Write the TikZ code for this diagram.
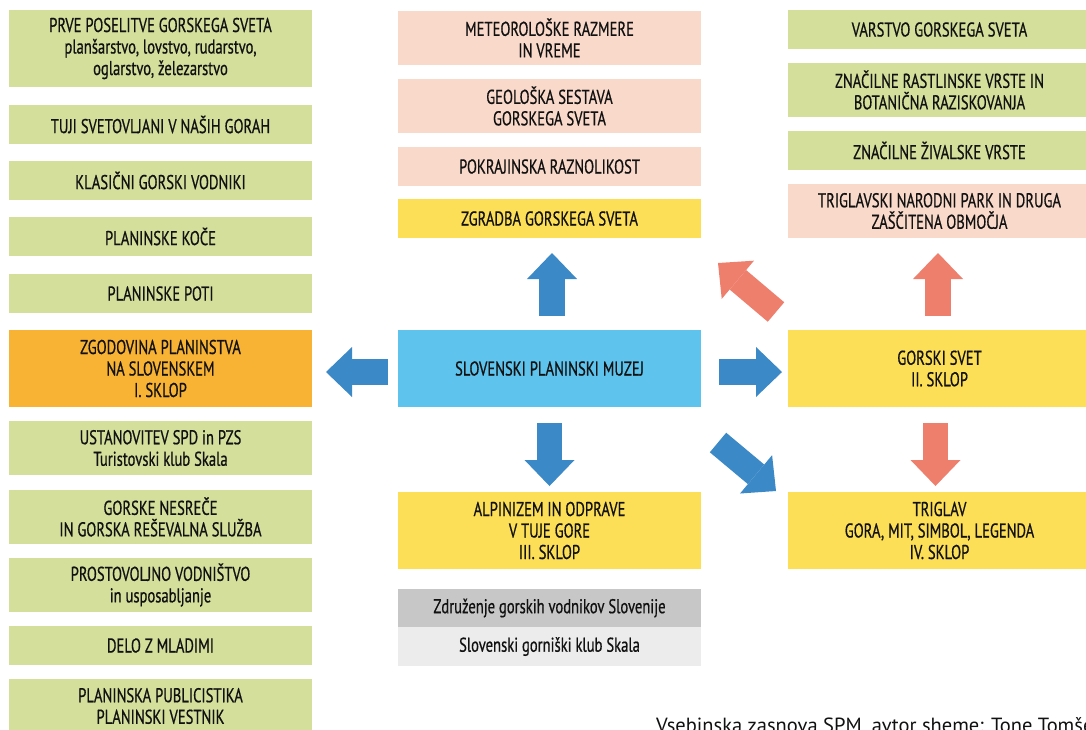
\documentclass[tikz,border=0pt]{standalone}
\usepackage{fontspec}
\setmainfont{PT Sans}[FakeStretch=0.73,FakeBold=0.6]
\newfontfamily\creditfont{PT Sans}
\usetikzlibrary{arrows.meta}
\definecolor{cgreen}{HTML}{D5DF9C}
\definecolor{cpink}{HTML}{F9D9CA}
\definecolor{cyellow}{HTML}{FDDF57}
\definecolor{corange}{HTML}{F8B334}
\definecolor{cblue}{HTML}{5EC4ED}
\definecolor{cgrayA}{HTML}{C6C7C6}
\definecolor{cgrayB}{HTML}{EBECEB}
\definecolor{ablue}{HTML}{3B89C6}
\definecolor{apink}{HTML}{EF7F6D}
\definecolor{ctext}{HTML}{111111}
\tikzset{
  box/.style={inner sep=0pt, outer sep=0pt, minimum width=303pt, align=center,
    text=ctext, font=\fontsize{20}{21.5}\selectfont},
  h39/.style={box, minimum height=39pt},
  h54/.style={box, minimum height=54pt},
  h77/.style={box, minimum height=77pt},
  gbox/.style={fill=cgreen},
  pbox/.style={fill=cpink},
  ybox/.style={fill=cyellow},
  fatarrow/.style={line width=25.5pt,
    -{Triangle[length=26pt,width=50pt,line width=0pt]}},
  barrow/.style={fatarrow, draw=ablue, fill=ablue},
  parrow/.style={fatarrow, draw=apink, fill=apink},
}
\begin{document}
\begin{tikzpicture}[x=1pt,y=-1pt]
\useasboundingbox (0,0) rectangle (1086,729);
% left column
\node[h77,gbox] (l1) at (160.5,48.5) {PRVE POSELITVE GORSKEGA SVETA\\plan\v{s}arstvo, lovstvo, rudarstvo,\\oglarstvo, \v{z}elezarstvo};
\node[h39,gbox] (l2) at (160.5,124.5) {TUJI SVETOVLJANI V NA\v{S}IH GORAH};
\node[h39,gbox] (l3) at (160.5,180.5) {KLASI\v{C}NI GORSKI VODNIKI};
\node[h39,gbox] (l4) at (160.5,236.5) {PLANINSKE KO\v{C}E};
\node[h39,gbox] (l5) at (160.5,293.5) {PLANINSKE POTI};
\node[h77,fill=corange] (lo) at (160.5,368.5) {ZGODOVINA PLANINSTVA\\NA SLOVENSKEM\\I. SKLOP};
\node[h54,gbox] (l6) at (160.5,448) {USTANOVITEV SPD in PZS\\Turistovski klub Skala};
\node[h54,gbox] (l7) at (160.5,517) {GORSKE NESRE\v{C}E\\IN GORSKA RE\v{S}EVALNA SLU\v{Z}BA};
\node[h54,gbox] (l8) at (160.5,585) {PROSTOVOLJNO VODNI\v{S}TVO\\in usposabljanje};
\node[h39,gbox] (l9) at (160.5,645.5) {DELO Z MLADIMI};
\node[h54,gbox] (l10) at (160.5,706) {PLANINSKA PUBLICISTIKA\\PLANINSKI VESTNIK};
% centre column
\node[h54,pbox] (c1) at (549.5,38) {METEOROLO\v{S}KE RAZMERE\\IN VREME};
\node[h54,pbox] (c2) at (549.5,106) {GEOLO\v{S}KA SESTAVA\\GORSKEGA SVETA};
\node[h39,pbox] (c3) at (549.5,166.5) {POKRAJINSKA RAZNOLIKOST};
\node[h39,ybox] (c4) at (549.5,218.5) {ZGRADBA GORSKEGA SVETA};
\node[h77,fill=cblue] (spm) at (549.5,368.5) {SLOVENSKI PLANINSKI MUZEJ};
\node[h77,ybox] (c5) at (549.5,530.5) {ALPINIZEM IN ODPRAVE\\V TUJE GORE\\III. SKLOP};
\node[box,minimum height=38pt,fill=cgrayA] (g1) at (549.5,608) {Zdru\v{z}enje gorskih vodnikov Slovenije};
\node[h39,fill=cgrayB] (g2) at (549.5,646.5) {Slovenski gorni\v{s}ki klub Skala};
% right column
\node[h39,gbox] (r1) at (939.5,29.5) {VARSTVO GORSKEGA SVETA};
\node[h54,gbox] (r2) at (939.5,90) {ZNA\v{C}ILNE RASTLINSKE VRSTE IN\\BOTANI\v{C}NA RAZISKOVANJA};
\node[h39,gbox] (r3) at (939.5,150.5) {ZNA\v{C}ILNE \v{Z}IVALSKE VRSTE};
\node[h54,pbox] (r4) at (939.5,211) {TRIGLAVSKI NARODNI PARK IN DRUGA\\ZA\v{S}\v{C}ITENA OBMO\v{C}JA};
\node[h77,ybox] (r5) at (939.5,368.5) {GORSKI SVET\\II. SKLOP};
\node[h77,ybox] (r6) at (939.5,530.5) {TRIGLAV\\GORA, MIT, SIMBOL, LEGENDA\\IV. SKLOP};
% arrows
\draw[barrow] ([xshift=2.5pt,yshift=14pt]spm.north) -- ([xshift=2.5pt,yshift=-15pt]c4.south);
\draw[barrow] ([xshift=-10pt,yshift=-3.5pt]spm.west) -- ([xshift=14pt,yshift=-3.5pt]lo.east);
\draw[barrow] ([xshift=18pt,yshift=-3.5pt]spm.east) -- ([xshift=-6pt,yshift=-3.5pt]r5.west);
\draw[barrow] ([yshift=-16pt]spm.south) -- ([yshift=6pt]c5.north);
\draw[barrow] ([xshift=17pt,yshift=-35.5pt]spm.south east) -- ([xshift=-12pt,yshift=1pt]r6.north west);
\draw[parrow] ([xshift=-12pt,yshift=18pt]r5.north west) -- ([xshift=17pt,yshift=-25pt]c4.south east);
\draw[parrow] ([xshift=-1.5pt,yshift=14pt]r5.north) -- ([xshift=-1.5pt,yshift=-15pt]r4.south);
\draw[parrow] ([xshift=-4pt,yshift=-16pt]r5.south) -- ([xshift=-4pt,yshift=6pt]r6.north);
% credit (cut at the lower and right edges, as in the reference)
\node[anchor=base west, inner sep=0pt, text=ctext, font=\creditfont\fontsize{20.5}{22}\selectfont] (credit) at (656,732) {Vsebinska zasnova SPM, avtor sheme: Tone Tom\v{s}e};
\end{tikzpicture}
\end{document}
